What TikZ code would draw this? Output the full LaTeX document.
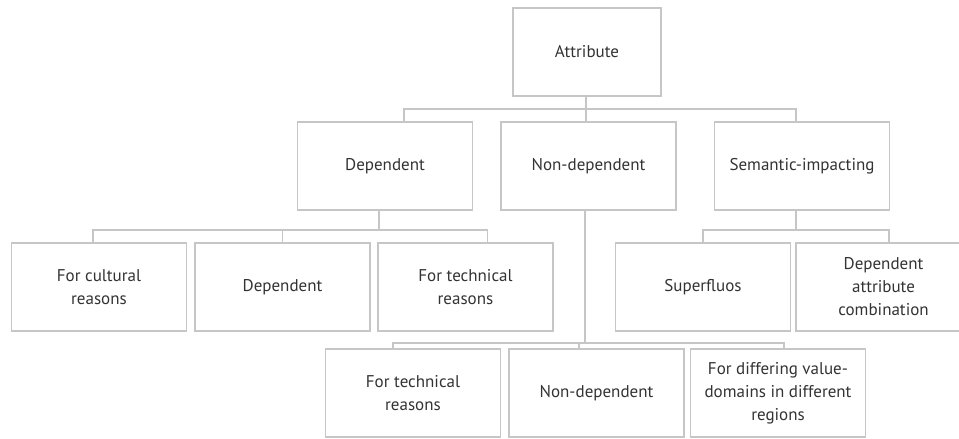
\documentclass[tikz,border=0pt]{standalone}
\usepackage{fontspec}
\setmainfont{PT Sans}
\usepackage{xcolor}
\usepackage{tikz}
\usetikzlibrary{positioning, calc}

\definecolor{linegray}{HTML}{C6C6C6}
\definecolor{textgray}{HTML}{333333}

\tikzset{
  box/.style={draw=linegray, line width=1.3pt, minimum width=175pt, minimum height=88pt,
    inner sep=2pt, align=center, text=textgray, font=\fontsize{17}{23}\selectfont},
  link/.style={draw=linegray, line width=1.3pt}
}

\begin{document}
\begin{tikzpicture}[x=1pt, y=-1pt]
  \clip (0,0) rectangle (959,439);

  % Root
  \node (attr) [box, minimum width=148pt] at (587,52) {Attribute};

  % Second row
  \node (dep)    [box] at (385,166)   {Dependent};
  \node (nondep) [box] at (588.5,166) {Non-dependent};
  \node (sem)    [box] at (802,166)   {Semantic-impacting};

  % Third row
  \node (cult)  [box] at (99,287)    {For cultural\\reasons};
  \node (dep2)  [box] at (282.5,287) {Dependent};
  \node (tech1) [box] at (465.5,287) {For technical\\reasons};
  \node (super) [box] at (703,287)   {Superfluos};
  \node (combo) [box] at (883.5,287) {Dependent\\attribute\\combination};

  % Bottom row
  \node (tech2)   [box] at (413,393)   {For technical\\reasons};
  \node (nondep2) [box] at (596.5,393) {Non-dependent};
  \node (differ)  [box] at (778,393)   {For differing value-\\domains in different\\regions};

  % Connectors from Attribute
  \coordinate (j0) at (586,109);
  \draw[link] (attr.south -| j0) -- (j0);
  \draw[link] ([xshift=19pt]dep.north) |- (j0) -| ([xshift=-6pt]sem.north);
  \draw[link] (j0) -- (nondep.north -| j0);

  % Connectors from Dependent
  \coordinate (j1) at (379,230);
  \draw[link] ([xshift=-6pt]dep.south) -- (j1);
  \draw[link] ([xshift=-6pt]cult.north) |- ($(tech1.north |- j1)+(22,0)$) -- ([xshift=22pt]tech1.north);
  \draw[link] (dep2.north) -- (dep2.north |- j1);

  % Connectors from Semantic-impacting
  \coordinate (j2) at (796,230);
  \draw[link] ([xshift=-6pt]sem.south) -- (j2);
  \draw[link] (super.north) |- ($(combo.north |- j2)+(5.5,0)$) -- ([xshift=5.5pt]combo.north);

  % Connectors from Non-dependent
  \coordinate (j3) at (585,343);
  \draw[link] ([xshift=-3.5pt]nondep.south) -- (j3);
  \draw[link] ([xshift=-20pt]tech2.north) |- ($(differ.north |- j3)+(6,0)$) -- ([xshift=6pt]differ.north);
  \draw[link] ([xshift=-17.5pt]nondep2.north) -- ($(nondep2.north |- j3)+(-17.5,0)$);
\end{tikzpicture}
\end{document}
